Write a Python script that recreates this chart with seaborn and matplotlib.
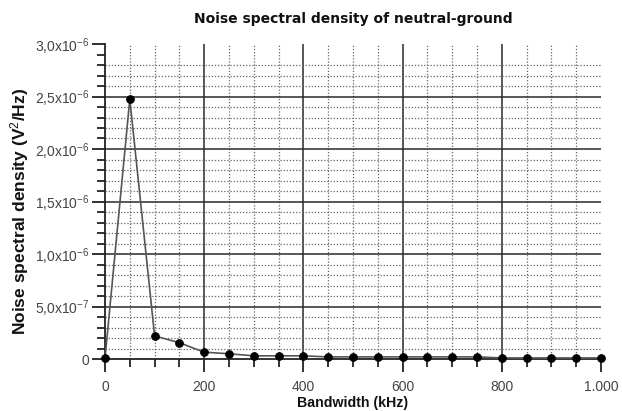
import matplotlib
matplotlib.use("Agg")
import matplotlib.pyplot as plt
import seaborn as sns
from matplotlib.ticker import MultipleLocator, FixedLocator

bandwidth_khz = [0, 50, 100, 150, 200, 250, 300, 350, 400, 450, 500,
                 550, 600, 650, 700, 750, 800, 850, 900, 950, 1000]
noise_psd = [0.5e-8, 2.475e-6, 2.2e-7, 1.55e-7, 6.5e-8, 5.0e-8, 3.0e-8, 3.0e-8,
             3.0e-8, 2.0e-8, 2.0e-8, 2.0e-8, 2.0e-8, 2.0e-8, 2.0e-8, 2.0e-8,
             1.0e-8, 1.0e-8, 1.0e-8, 1.0e-8, 1.0e-8]

x_ticks = [0, 200, 400, 600, 800, 1000]
x_labels = ["0", "200", "400", "600", "800", "1.000"]
y_ticks = [0, 5e-7, 1e-6, 1.5e-6, 2e-6, 2.5e-6, 3e-6]
y_labels = ["0", "5,0x10$^{-7}$", "1,0x10$^{-6}$", "1,5x10$^{-6}$",
            "2,0x10$^{-6}$", "2,5x10$^{-6}$", "3,0x10$^{-6}$"]

sns.set_style("white")
plt.rcParams['font.family'] = ['Liberation Sans', 'DejaVu Sans']
plt.rcParams['mathtext.fontset'] = 'custom'
plt.rcParams['mathtext.rm'] = 'Liberation Sans'
plt.rcParams['mathtext.it'] = 'Liberation Sans:italic'
plt.rcParams['mathtext.bf'] = 'Liberation Sans:bold'

W, H = 622, 411
L, R, B, T = 105, 601, 359, 44
fig = plt.figure(figsize=(W/100, H/100), dpi=100)
ax = fig.add_axes([L/W, 1-B/H, (R-L)/W, (B-T)/H])

sns.lineplot(x=bandwidth_khz, y=noise_psd, ax=ax, color="#555555", linewidth=1.2,
             marker="o", markersize=5.5, markerfacecolor="black",
             markeredgecolor="black", zorder=5, clip_on=False)

ax.set_xlim(0, 1000)
ax.set_ylim(0, 3e-6)
ax.xaxis.set_major_locator(FixedLocator(x_ticks))
ax.set_xticklabels(x_labels)
ax.xaxis.set_minor_locator(MultipleLocator(50))
ax.yaxis.set_major_locator(FixedLocator(y_ticks))
ax.set_yticklabels(y_labels)
ax.yaxis.set_minor_locator(MultipleLocator(1e-7))

ax.grid(which="major", color="#2a2a2a", linewidth=1.1, linestyle="-")
ax.grid(which="minor", color="#666666", linewidth=0.9, linestyle=(0, (1, 1.5)))

for s in ["top", "right"]:
    ax.spines[s].set_visible(False)
for s in ["left", "bottom"]:
    ax.spines[s].set_color("#222222")
    ax.spines[s].set_linewidth(1.3)

ax.tick_params(which="major", direction="out", length=9.4, width=1.3,
               color="#222222", labelsize=10, labelcolor="#444444",
               left=True, bottom=True)
ax.tick_params(axis="y", which="major", pad=2)
ax.tick_params(axis="x", which="major", pad=6)
ax.tick_params(which="minor", direction="out", length=5.8, width=1.3,
               color="#222222", left=True, bottom=True)

ax.set_title("Noise spectral density of neutral-ground", fontsize=10,
             fontweight="bold", family="DejaVu Sans", color="#111111",
             y=(B-19)/(B-T), pad=0, va="center")
ax.set_xlabel("Bandwidth (kHz)", fontsize=10.2, fontweight="bold",
              color="#111111", va="center")
ax.xaxis.set_label_coords(0.5, (B-403)/(B-T))
ax.set_ylabel("Noise spectral density (V$^{2}$/Hz)", fontsize=12.5,
              fontweight="bold", color="#111111", va="center")
ax.yaxis.set_label_coords((20-L)/(R-L), (B-211.5)/(B-T))

fig.canvas.draw()
# hide grid lines lying on the plot edges / the top minor line
for loc, tk in zip(ax.xaxis.get_majorticklocs(), ax.xaxis.get_major_ticks()):
    if loc in (0, 1000):
        tk.gridline.set_visible(False)
for loc, tk in zip(ax.yaxis.get_majorticklocs(), ax.yaxis.get_major_ticks()):
    if loc == 0 or loc >= 2.99e-6:
        tk.gridline.set_visible(False)
for loc, tk in zip(ax.yaxis.get_minorticklocs(), ax.yaxis.get_minor_ticks()):
    if loc > 2.85e-6:
        tk.gridline.set_visible(False)

fig.savefig("out.png", dpi=100)
